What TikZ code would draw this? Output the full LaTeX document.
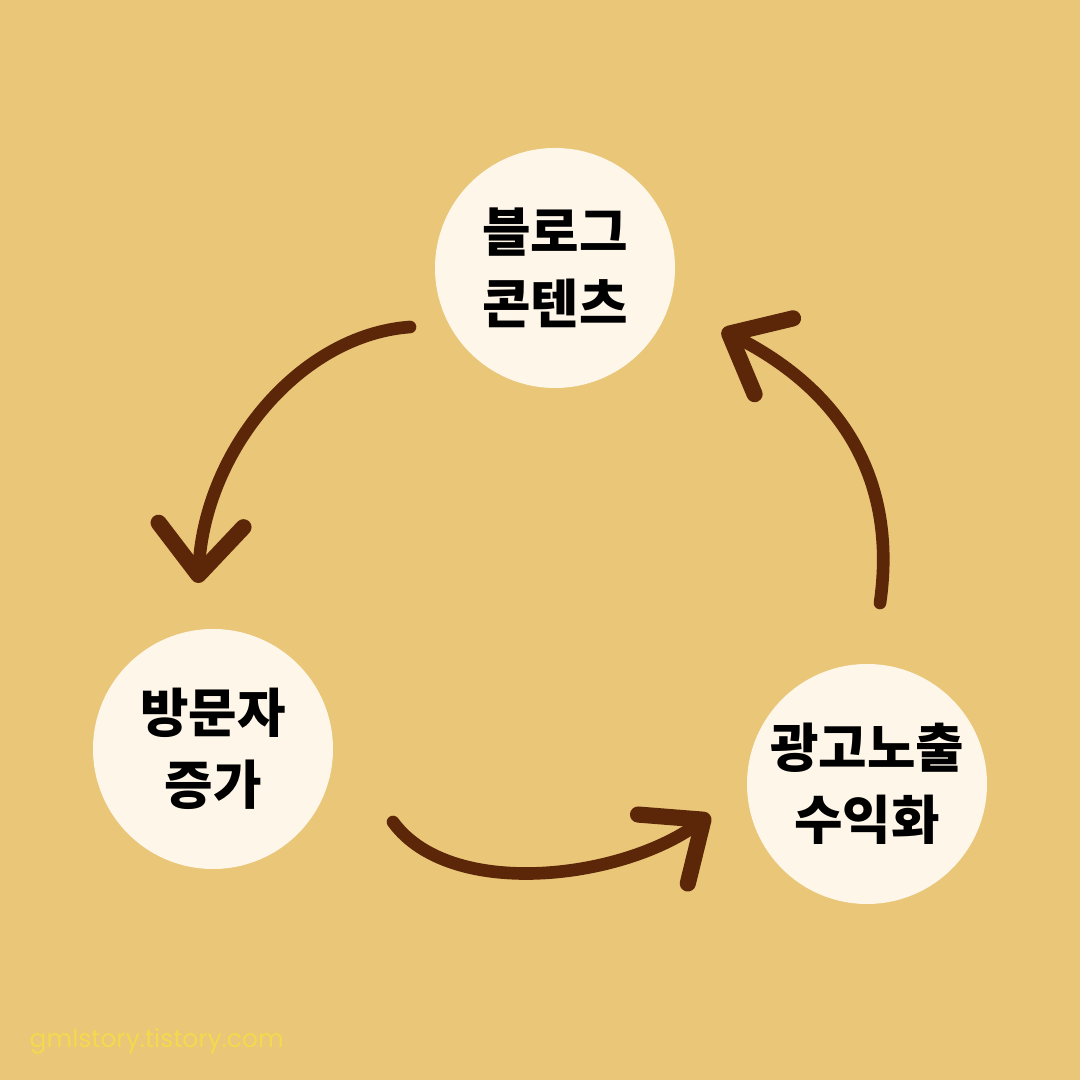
\documentclass[tikz,border=0pt]{standalone}
\usepackage{fontspec}
\newfontfamily\kr{Noto Sans CJK KR}
\newfontfamily\webfont{Poppins}
\usepackage{xcolor}
\usepackage{tikz}
\usetikzlibrary{arrows.meta, calc}
\definecolor{bgsand}{RGB}{233, 198, 120}
\definecolor{cream}{RGB}{253, 246, 233}
\definecolor{brush}{RGB}{92, 38, 8}
\definecolor{markyellow}{RGB}{245, 216, 78}

\begin{document}
\begin{tikzpicture}[
    stage/.style={circle, fill=cream, minimum size=2.4cm, inner sep=0pt, align=center,
        font=\kr\bfseries\fontsize{15pt}{20.5pt}\selectfont},
    flow/.style={draw=brush, line width=3.6pt, line cap=round,
        -{Straight Barb[length=5mm, width=8.5mm, round, line width=1pt 1]}}
]
    % Background
    \fill[bgsand] (0,0) rectangle (10.8,10.8);
    \useasboundingbox (0,0) rectangle (10.8,10.8);

    % Stage circles
    \node[stage] (blog) at (5.55, 8.12) {블로그\\콘텐츠};
    \node[stage] (visit) at (2.13, 3.31) {방문자\\증가};
    \node[stage] (ads) at (8.67, 2.96) {광고노출\\수익화};

    % Arrow end points
    \coordinate (b-out) at ($(blog)+(-1.45,-0.59)$);
    \coordinate (v-in) at ($(visit)+(-0.15,1.66)$);
    \coordinate (v-out) at ($(visit)+(1.80,-0.73)$);
    \coordinate (a-in) at ($(ads)+(-1.57,-0.31)$);
    \coordinate (a-out) at ($(ads)+(0.13,1.81)$);
    \coordinate (b-in) at ($(blog)+(1.67,-0.62)$);

    % Cycle arrows
    \draw[flow] (b-out) .. controls (3.00,7.45) and (2.05,6.30) .. (v-in);
    \draw[flow] (v-out) .. controls (4.50,1.80) and (6.20,2.00) .. (a-in);
    \draw[flow] (a-out) .. controls (8.95,5.80) and (8.60,6.80) .. (b-in);

    % Watermark
    \node[anchor=west, inner sep=0pt, text=markyellow, font=\webfont\fontsize{7.1pt}{8pt}\selectfont] (mark) at (0.29, 0.39) {gmlstory.tistory.com};
\end{tikzpicture}
\end{document}
